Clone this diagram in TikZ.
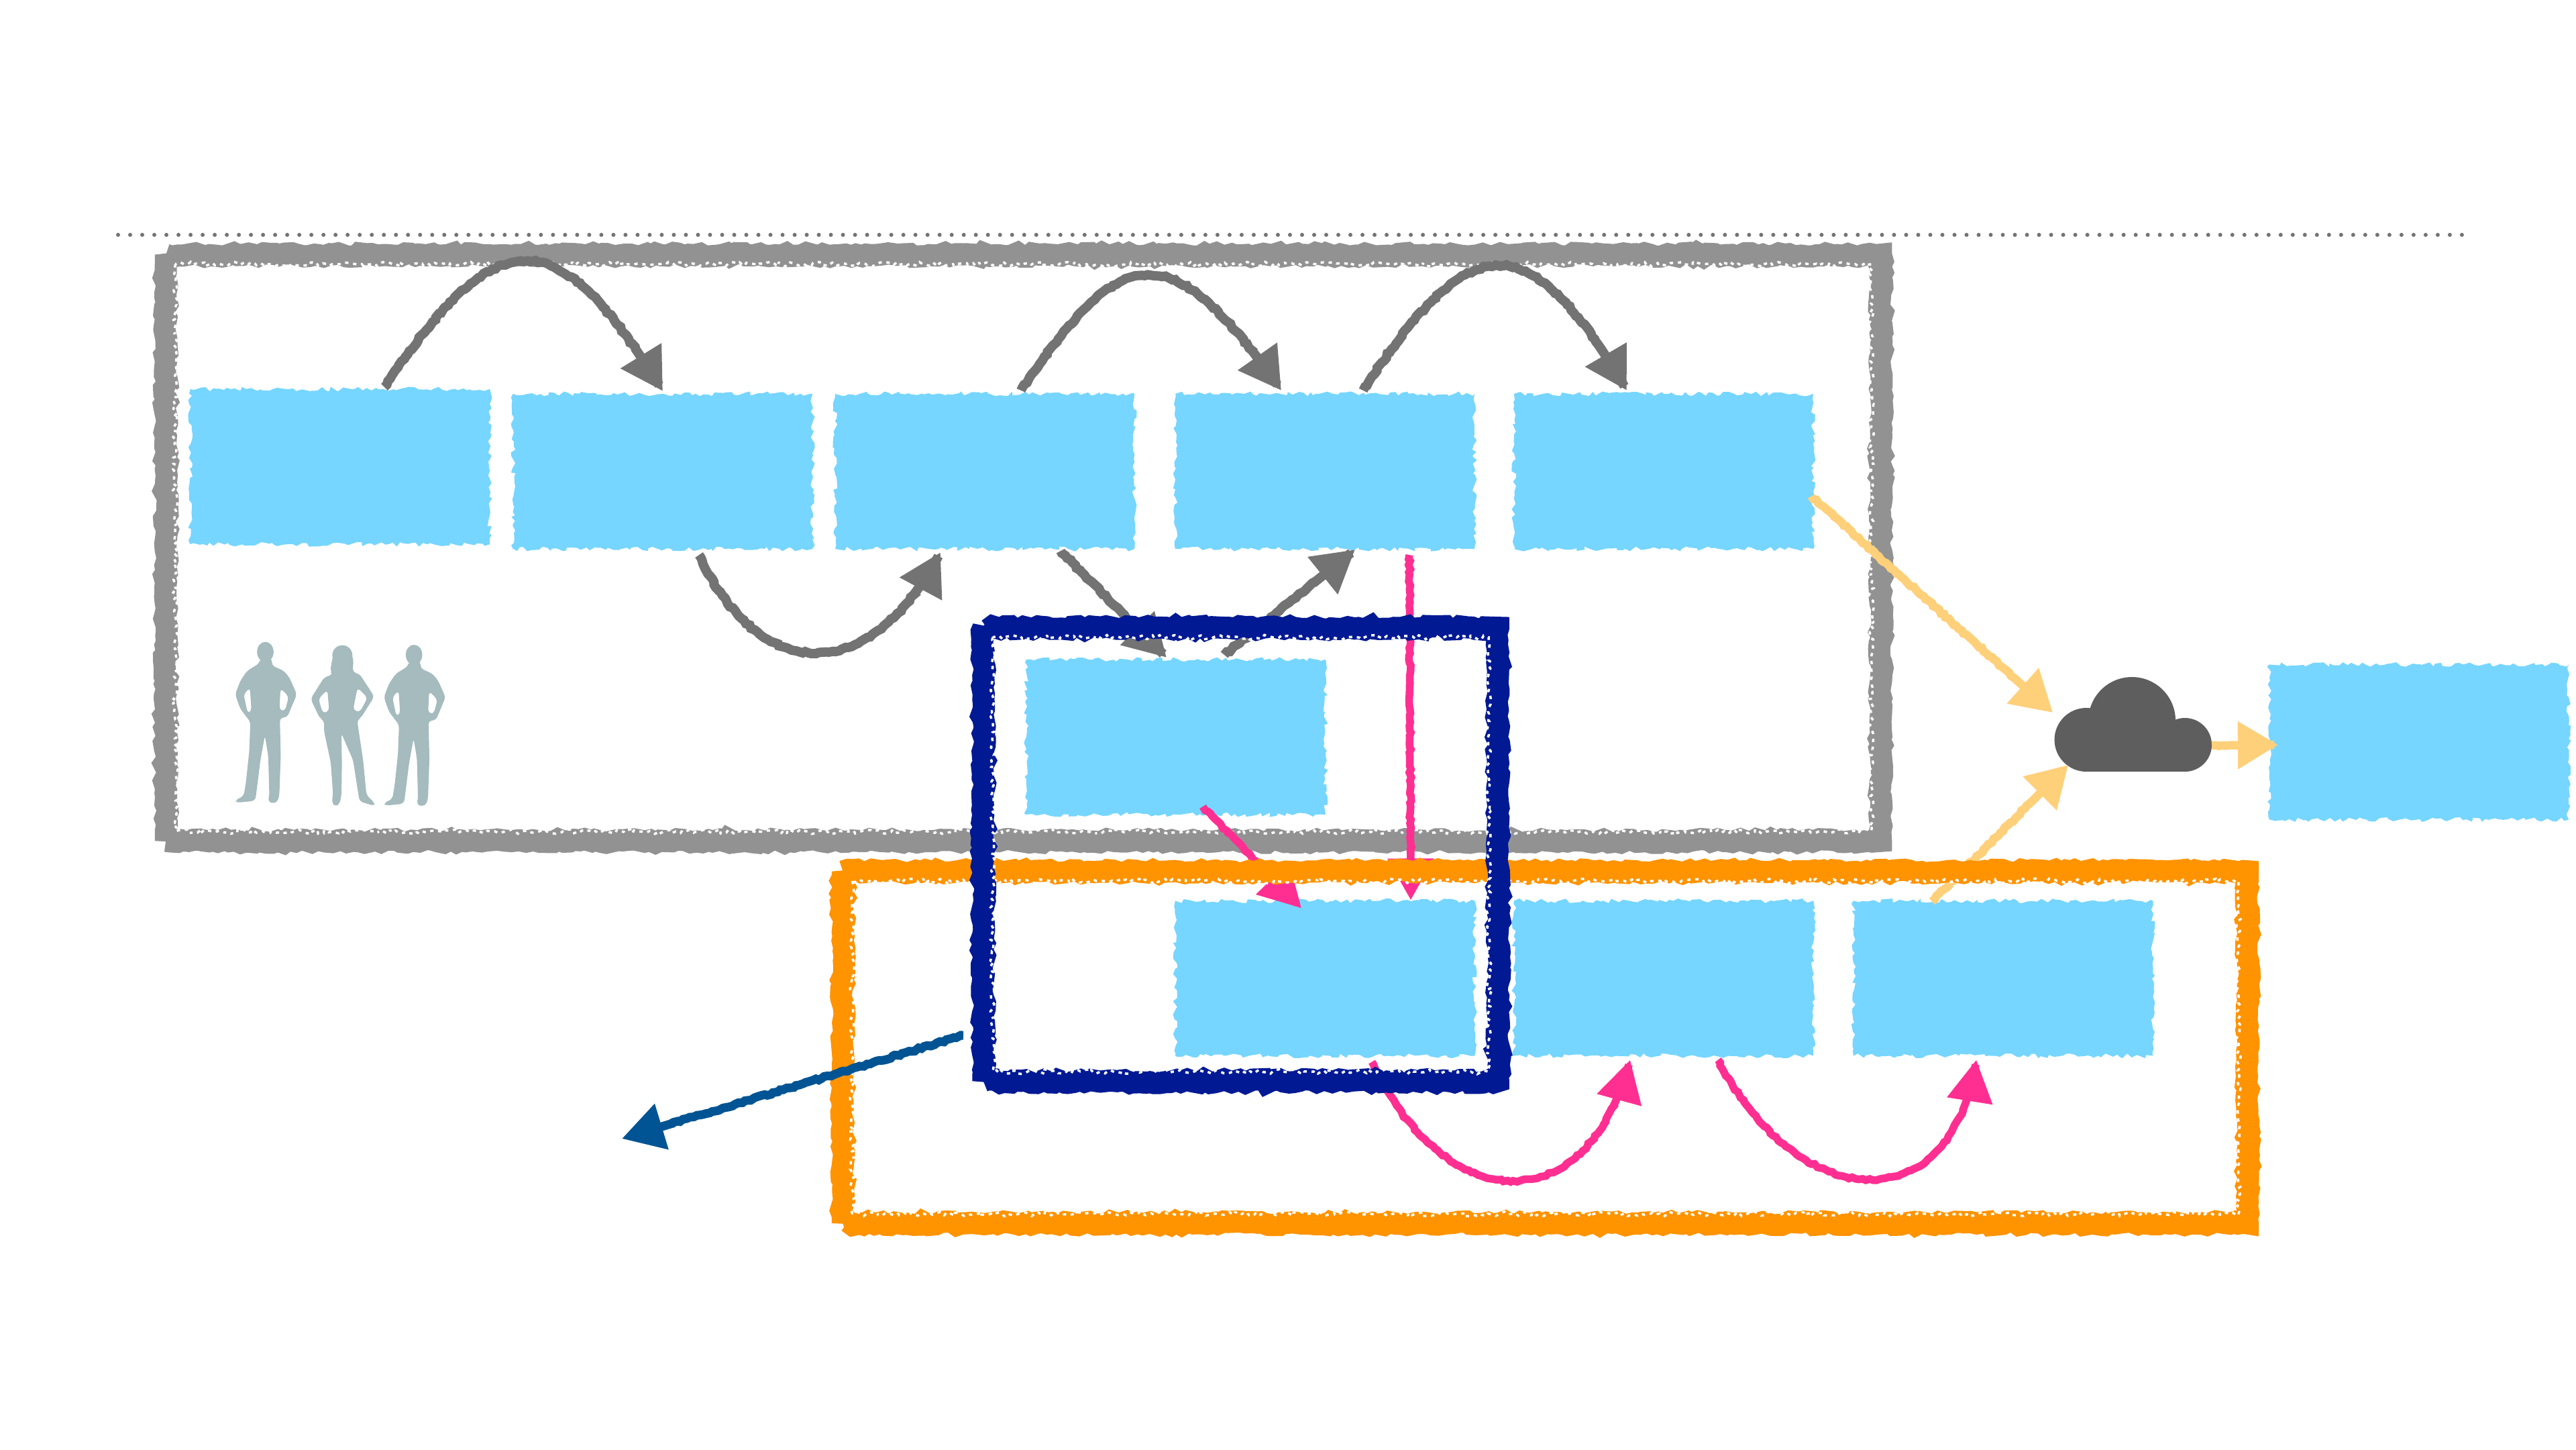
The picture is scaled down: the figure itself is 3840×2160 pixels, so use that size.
\documentclass[tikz,border=0pt]{standalone}
\usetikzlibrary{arrows.meta,shapes.misc,decorations.pathmorphing,calc}
\definecolor{cGrayFrame}{HTML}{929292}
\definecolor{cGrayArrow}{HTML}{737373}
\definecolor{cSky}{HTML}{76D6FF}
\definecolor{cNavy}{HTML}{011993}
\definecolor{cOrange}{HTML}{FF9300}
\definecolor{cPink}{HTML}{FF2F92}
\definecolor{cYellow}{HTML}{FFD07A}
\definecolor{cDeep}{HTML}{005493}
\definecolor{cCloud}{HTML}{5E5E5E}
\definecolor{cPeople}{HTML}{A5BBBE}
\tikzset{
  bluebox/.style={shape=chamfered rectangle,chamfered rectangle corners=north west,
    chamfered rectangle xsep=.2cm,chamfered rectangle ysep=.22cm,
    minimum width=4.46cm,minimum height=2.31cm,inner sep=0pt,outer sep=0pt,fill=cSky,
    decorate,decoration={random steps,segment length=.06cm,amplitude=.035cm}},
  frame/.style={shape=chamfered rectangle,chamfered rectangle corners=north west,
    chamfered rectangle xsep=.17cm,chamfered rectangle ysep=.17cm,
    inner sep=0pt,outer sep=0pt,line width=.33cm,draw=#1,miter limit=2.2,
    decorate,decoration={random steps,segment length=.08cm,amplitude=.028cm}},
  speckle/.style={white,line width=.035cm,dash pattern=on .05cm off .07cm,miter limit=1.5,
    decorate,decoration={random steps,segment length=.05cm,amplitude=.035cm}},
  chalk/.style={line width=#1,line cap=butt,decorate,
    decoration={random steps,segment length=.05cm,amplitude=.015cm,post=curveto,post length=.75cm}},
  grayarrow/.style={cGrayArrow,chalk=.14cm,-{Triangle[length=.62cm,width=.68cm]}},
  pinkarrow/.style={cPink,chalk=.115cm,-{Triangle[length=.62cm,width=.66cm]}},
  yellowarrow/.style={cYellow,chalk=.125cm,-{Triangle[length=.6cm,width=.68cm]}},
  deeparrow/.style={cDeep,chalk=.13cm,-{Triangle[length=.62cm,width=.68cm]}},
  dotline/.style={cGrayArrow,line width=.06cm,line cap=round,dash pattern=on 0pt off .18cm},
  person/.style={fill=cPeople,rounded corners=.05cm,even odd rule},
  personhead/.style={fill=cPeople},
  cloudpart/.style={fill=cCloud}
}
\newcommand{\ManShape}{%
  \fill[personhead] (287,155) ellipse [x radius=37,y radius=45];
  \fill[person] (262,205) -- (205,240) -- (175,285) -- (152,345) -- (175,410) -- (215,462)
    -- (220,470) -- (215,600) -- (200,740) -- (190,800) -- (150,820) -- (160,830) -- (240,822)
    -- (245,800) -- (265,640) -- (285,530) -- (300,620) -- (305,800) -- (298,825) -- (325,835)
    -- (345,820) -- (350,790) -- (356,620) -- (352,450) -- (385,448) -- (405,400) -- (428,345)
    -- (395,270) -- (370,240) -- (315,215) -- (318,185) -- (262,185) -- cycle
    (218,315) -- (190,345) -- (208,430) -- (225,420) -- cycle
    (355,318) -- (350,415) -- (375,420) -- (392,355) -- cycle;
}
\begin{document}
\begin{tikzpicture}[x=.01cm,y=-.01cm]
\pgfmathsetseed{7}
\useasboundingbox (0,0) rectangle (3840,2160);
\fill[white] (0,0) rectangle (3840,2160);

% dotted rule
\coordinate (ruleL) at (176,350);
\coordinate (ruleR) at (3676,350);
\draw[dotline] (ruleL) -- (ruleR);

% gray frame
\node[frame=cGrayFrame,minimum width=25.55cm,minimum height=8.73cm] (fgray) at (1525.5,816.5) {};
\draw[speckle] ([shift={(14,14)}]fgray.north west) rectangle ([shift={(-14,-14)}]fgray.south east);

% blue boxes
\node[bluebox] (b1) at (507,695.5) {};
\node[bluebox] (b2) at (988,702.5) {};
\node[bluebox] (b3) at (1468,702.5) {};
\node[bluebox] (b4) at (1975,702.5) {};
\node[bluebox] (b5) at (2480,702.5) {};
\node[bluebox] (b6) at (1753,1098.5) {};
\node[bluebox] (b7) at (1975,1458) {};
\node[bluebox] (b8) at (2480,1458) {};
\node[bluebox] (b9) at (2986,1458) {};
\node[bluebox] (b10) at (3606,1106) {};

% cloud
\coordinate (cl) at (3180,1100);
\fill[cloudpart] (3110,1102.5) circle [radius=47.5];
\fill[cloudpart] (3257,1110) circle [radius=40];
\fill[cloudpart] (3178,1074) circle [radius=65];
\fill[cloudpart] (3110,1090) rectangle (3257,1150);

% people
\begin{scope}[shift={(300,920)},x=.003333cm,y=-.003333cm]
  \ManShape
  \fill[personhead] (632,170) ellipse [x radius=45,y radius=45];
  \fill[person] (632,125) -- (600,145) -- (585,195) -- (578,240) -- (590,255) -- (550,270)
    -- (490,365) -- (530,450) -- (550,462) -- (550,510) -- (580,650) -- (590,790) -- (585,830)
    -- (600,848) -- (620,835) -- (628,795) -- (630,660) -- (628,520) -- (680,640) -- (705,800)
    -- (710,825) -- (778,845) -- (775,830) -- (740,795) -- (725,640) -- (698,460) -- (715,450)
    -- (775,355) -- (710,255) -- (678,245) -- (682,190) -- (665,145) -- cycle
    (565,325) -- (525,365) -- (545,430) -- (573,420) -- cycle
    (700,315) -- (680,415) -- (710,425) -- (745,360) -- cycle;
  \begin{scope}[shift={(666,13)}]
    \ManShape
  \end{scope}
\end{scope}

% connector ends
\coordinate (a1s) at ([shift={(66,-3)}]b1.north);
\coordinate (a1e) at ([shift={(0,-4)}]b2.north);
\coordinate (a4s) at ([shift={(54,9)}]b2.south);
\coordinate (a4e) at ([shift={(-66,5)}]b3.south);
\coordinate (a2s) at ([shift={(54,-5)}]b3.north);
\coordinate (a2e) at ([shift={(-65,-5)}]b4.north);
\coordinate (a3s) at ([shift={(57,-5)}]b4.north);
\coordinate (a3e) at ([shift={(-55,-5)}]b5.north);
\coordinate (a5s) at ([shift={(113,3)}]b3.south);
\coordinate (a5e) at ([shift={(-14,-3)}]b6.north);
\coordinate (a6s) at ([shift={(72,-7)}]b6.north);
\coordinate (a6e) at ([shift={(45,1)}]b4.south);
\coordinate (p1s) at ([shift={(40,-12)}]b6.south);
\coordinate (p1e) at ([shift={(-35,11)}]b7.north);
\coordinate (p2s) at ([shift={(126,9)}]b4.south);
\coordinate (p2e) at ([shift={(128,-1)}]b7.north);
\coordinate (p3s) at ([shift={(70,9)}]b7.south);
\coordinate (p3e) at ([shift={(-50,6)}]b8.south);
\coordinate (p4s) at ([shift={(81,6)}]b8.south);
\coordinate (p4e) at ([shift={(-40,6)}]b9.south);
\coordinate (y1s) at ([shift={(-3,37)}]b5.east);
\coordinate (y1e) at ([shift={(-120,-38)}]cl);
\coordinate (y2s) at ([shift={(-106,1)}]b9.north);
\coordinate (y2e) at ([shift={(-97,40)}]cl);
\coordinate (y3s) at ([shift={(117,11)}]cl);
\coordinate (y3e) at ([shift={(13,4)}]b10.west);
\coordinate (n1s) at (1436,1543);
\coordinate (n1e) at (927,1697);

% gray arrows
\draw[grayarrow] (a1s) .. controls (743,325) and (830,325) .. (a1e);
\draw[grayarrow] (a4s) .. controls (1120,1000) and (1284,1045) .. (a4e);
\draw[grayarrow] (a2s) .. controls (1672,360) and (1744,344) .. (a2e);
\draw[grayarrow] (a3s) .. controls (2190,340) and (2277,327) .. (a3e);
\draw[grayarrow] (a5s) -- (a5e);
\draw[grayarrow] (a6s) -- (a6e);

% yellow arrows
\draw[yellowarrow] (y1s) -- (y1e);
\draw[yellowarrow] (y2s) -- (y2e);
\draw[yellowarrow] (y3s) -- (y3e);

% pink arrows
\draw[pinkarrow] (p1s) -- (p1e);
\draw[pinkarrow] (p2s) -- (p2e);
\draw[pinkarrow] (p3s) .. controls (2150,1810) and (2364,1829) .. (p3e);
\draw[pinkarrow] (p4s) .. controls (2680,1810) and (2909,1825) .. (p4e);

% orange frame
\node[frame=cOrange,minimum width=20.93cm,minimum height=5.24cm] (forange) at (2303.5,1561) {};
\draw[speckle] ([shift={(14,14)}]forange.north west) rectangle ([shift={(-14,-14)}]forange.south east);

% deep blue arrow
\draw[deeparrow] (n1s) -- (n1e);

% navy frame
\node[frame=cNavy,minimum width=7.67cm,minimum height=6.75cm] (fnavy) at (1849.5,1273.5) {};
\draw[speckle] ([shift={(14,14)}]fnavy.north west) rectangle ([shift={(-14,-14)}]fnavy.south east);
\end{tikzpicture}
\end{document}
